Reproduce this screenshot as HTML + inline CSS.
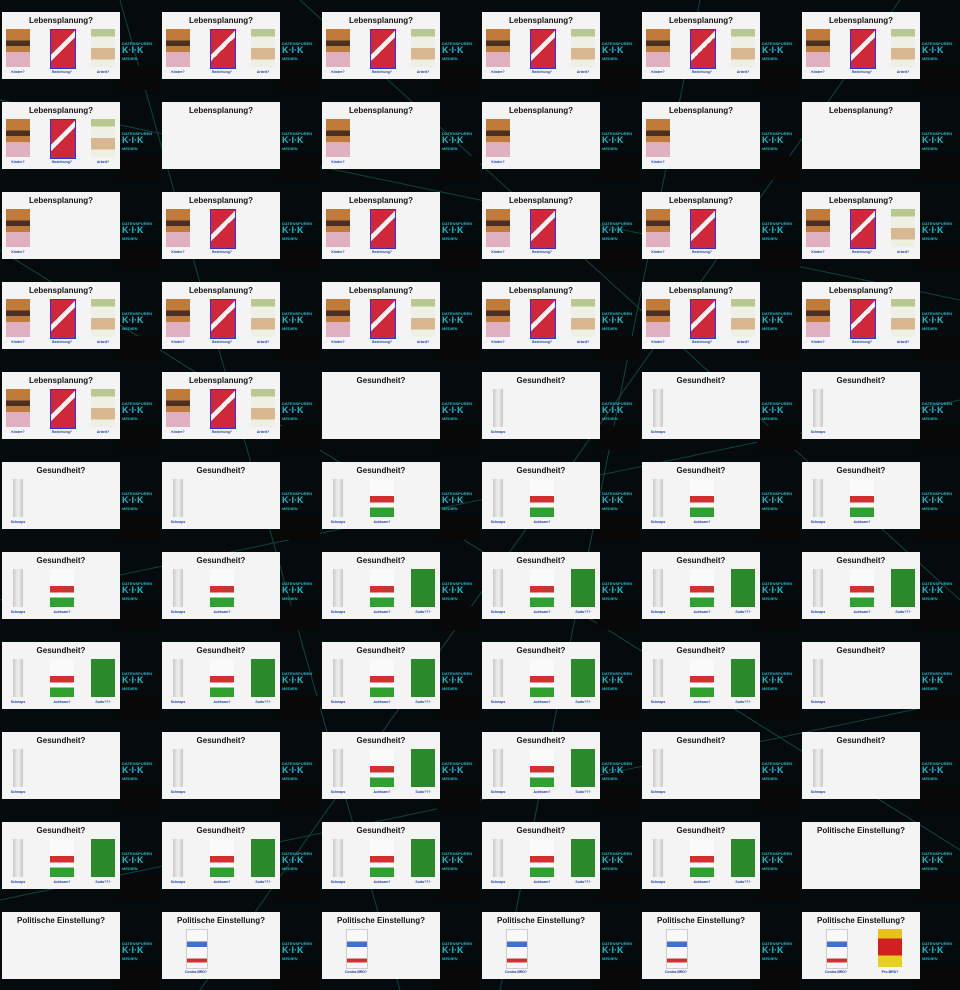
<!DOCTYPE html>
<html><head><meta charset="utf-8">
<style>
body{margin:0;width:960px;height:990px;overflow:hidden;background:#050b0c;font-family:"Liberation Sans",sans-serif}
#grid{position:absolute;left:0;top:0;width:960px;height:990px}
.tile{position:absolute;width:160px;height:90px;overflow:hidden}
.slide{position:absolute;left:2px;top:12px;width:118px;height:67px;background:#f4f4f4}
.title{position:absolute;left:0;top:4px;width:118px;text-align:center;font-weight:bold;font-size:8px;color:#111}
.img{position:absolute}
.lbl{position:absolute;font-size:3.5px;font-weight:bold;color:#2240b0;text-align:center;width:40px}
.logo{position:absolute;left:122px;top:40px;width:32px;font-size:4px;color:#1ab8c8;font-weight:bold;line-height:7px}
.spk{position:absolute;left:117px;top:66px;width:43px;height:24px;background:#080808}
</style></head>
<body>
<svg width="960" height="990" style="position:absolute;left:0;top:0">
<g stroke="#16504c" stroke-width="1" opacity="0.8">
<line x1="0" y1="100" x2="960" y2="300"/><line x1="120" y1="0" x2="400" y2="990"/>
<line x1="0" y1="600" x2="960" y2="400"/><line x1="700" y1="0" x2="500" y2="990"/>
<line x1="0" y1="900" x2="960" y2="700"/><line x1="900" y1="0" x2="200" y2="990"/>
<line x1="0" y1="250" x2="960" y2="850"/><line x1="300" y1="0" x2="960" y2="600"/>
</g></svg>
<div id="grid"></div>
<script>
const tileTypes=["L3","L3","L3","L3","L3","L3",
"L3","L0","L1","L1","L1","L0",
"L1","L2","L2","L2","L2","L3",
"L3","L3","L3","L3","L3","L3",
"L3","L3","G0","G1","G1","G1",
"G1","G1","G2","G2","G2","G2",
"G2","G2","G3","G3","G3","G3",
"G3","G3","G3","G3","G3","G1",
"G1","G1","G3","G3","G1","G1",
"G3","G3","G3","G3","G3","P0",
"P0","P1","P1","P1","P1","P2"];
const lItems=[["Kinder?","#c07a3a"],["Beziehung?","#d0283a"],["Arbeit?","#e6ecd8"]];
const gItems=[["Schnaps","#dcdcdc"],["Achtsam?","#f0e8e8"],["Sudo???","#2a8a2a"]];
const pItems=[["Contra-BRD?","#f6f6f6"],["Pro-BRD?","#e8c020"]];
const grid=document.getElementById('grid');
tileTypes.forEach((t,i)=>{
 const tile=document.createElement('div');tile.className='tile';
 
 
 tile.style.left=(i%6)*160+'px';tile.style.top=Math.floor(i/6)*90+'px';
 const sp=document.createElement('div');sp.className='spk';
 
 
 tile.appendChild(sp);
 const s=document.createElement('div');s.className='slide';
 
 
 const ti=document.createElement('div');ti.className='title';
 
 
 const kind=t[0],n=+t[1];
 ti.textContent=kind=='L'?'Lebensplanung?':kind=='G'?'Gesundheit?':'Politische Einstellung?';
 s.appendChild(ti);
 const items=kind=='L'?lItems:kind=='G'?gItems:pItems;
 const cx=kind=='P'?[34,88]:[16,60,101];
 for(let k=0;k<n;k++){
  const w=kind=='G'&&k==0?10:kind=='P'&&k==0?20:24;
  const im=document.createElement('div');im.className='img';
  
  
  im.style.left=(cx[k]-w/2)+'px';im.style.top='17px';im.style.width=w+'px';im.style.height='38px';
  im.style.background=items[k][1];
  if(kind=='L'&&k==1){im.style.border='1px solid #3030e0';im.style.background='linear-gradient(135deg,#d0283a 0 40%,#f4f4f4 40% 50%,#d0283a 50%)';}
  if(kind=='L'&&k==0)im.style.background='linear-gradient(#c07a3a 0 30%,#4a3020 30% 45%,#c07a3a 45% 60%,#e0b0c0 60%)';
  if(kind=='L'&&k==2)im.style.background='linear-gradient(#b8c890 0 20%,#eef0e4 20% 50%,#d8b890 50% 80%,#eef0e4 80%)';
  if(kind=='P'&&k==1)im.style.background='linear-gradient(#e8c020 0 25%,#d02020 25% 70%,#e8d020 70%)';
  if(kind=='P'&&k==0){im.style.background='linear-gradient(#f8f8f8 0 30%,#4070d0 30% 45%,#f8f8f8 45% 75%,#d03030 75% 85%,#f8f8f8 85%)';im.style.border='1px solid #ccc';}
  if(kind=='G'&&k==1)im.style.background='linear-gradient(#fafafa 0 45%,#d03030 45% 62%,#fafafa 62% 75%,#30a030 75%)';
  if(kind=='G'&&k==0)im.style.background='linear-gradient(90deg,#c8c8c8,#f0f0f0,#c8c8c8)';
  s.appendChild(im);
  const lb=document.createElement('div');lb.className='lbl';
  
  
  lb.style.left=(cx[k]-20)+'px';lb.style.top='58px';lb.textContent=items[k][0];
  s.appendChild(lb);
 }
 tile.appendChild(s);
 const lg=document.createElement('div');lg.className='logo';
 
 
 lg.innerHTML='DATENSPUREN<br><span style="font-size:9px">K·I·K</span><br>MEDIEN';
 tile.appendChild(lg);
 grid.appendChild(tile);
});
</script>
</body></html>
